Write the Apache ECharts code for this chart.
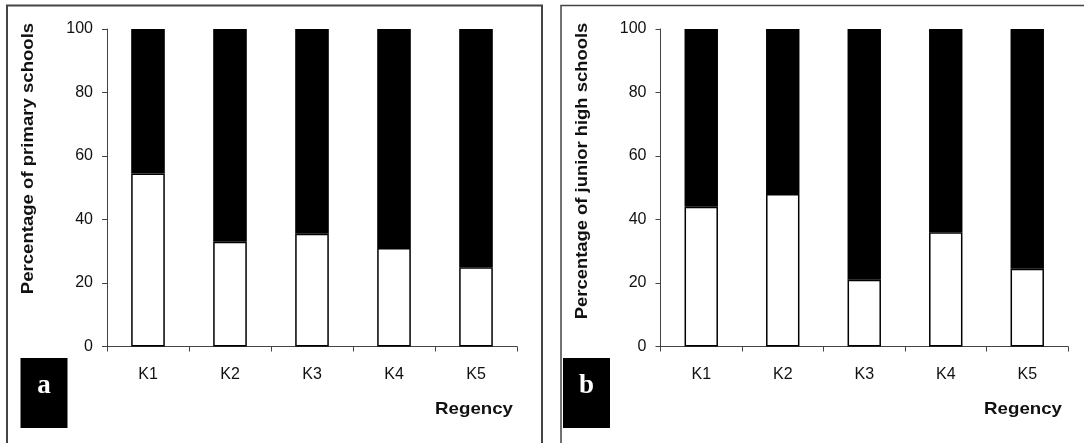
<!DOCTYPE html>
<html>
<head>
<meta charset="utf-8">
<style>
  html, body { margin: 0; padding: 0; background: #fff; }
  #chart { width: 1084px; height: 443px; }
</style>
<script src="https://cdn.jsdelivr.net/npm/echarts@6/dist/echarts.min.js"></script>
</head>
<body>
<div id="chart"></div>
<script>
// Regencies shown on both panels
const regencies = ['K1', 'K2', 'K3', 'K4', 'K5'];
// Panel a: primary schools (white part / black remainder, percent)
const primaryWhite = [54.5, 33, 35.5, 31, 25];
const primaryBlack = primaryWhite.map(v => 100 - v);
// Panel b: junior high schools
const juniorWhite = [44, 48, 21, 36, 24.5];
const juniorBlack = juniorWhite.map(v => 100 - v);
// Value axis ticks
const yTicks = [0, 20, 40, 60, 80, 100];

const FONT = 'Liberation Sans, Arial, sans-serif';
const chart = echarts.init(document.getElementById('chart'), null, { renderer: 'canvas' });

function xAxisFor(gridIndex) {
  return {
    type: 'category', gridIndex, data: regencies,
    axisLine: { lineStyle: { color: '#444', width: 1 } },
    axisTick: { show: true, length: 5, lineStyle: { color: '#444' } },
    axisLabel: { color: '#111', fontSize: 16, fontFamily: FONT, margin: 20 }
  };
}
function yAxisFor(gridIndex) {
  return {
    type: 'value', gridIndex, min: yTicks[0], max: yTicks[yTicks.length - 1], interval: 20,
    axisLine: { show: true, lineStyle: { color: '#444', width: 1 } },
    axisTick: { show: true, length: 5, lineStyle: { color: '#444' } },
    axisLabel: { color: '#111', fontSize: 16, fontFamily: FONT, margin: 14 },
    splitLine: { show: false }
  };
}
function stackPair(whiteData, blackData, idx) {
  const stack = 'pct' + idx;
  return [
    {
      type: 'bar', xAxisIndex: idx, yAxisIndex: idx, stack, data: whiteData,
      barWidth: '41%',
      itemStyle: { color: '#fff', borderColor: '#000', borderWidth: 1.5 }
    },
    {
      type: 'bar', xAxisIndex: idx, yAxisIndex: idx, stack, data: blackData,
      barWidth: '41%',
      itemStyle: { color: '#000', borderColor: '#000', borderWidth: 0 }
    }
  ];
}

function panelLabel(letter, x) {
  return [
    { type: 'rect', shape: { x: x, y: 358, width: 47, height: 70 }, style: { fill: '#000' } },
    {
      type: 'text', x: x + 23.5, y: 386,
      style: { text: letter, fill: '#fff', font: 'bold 27px "Liberation Serif", "Times New Roman", serif',
               align: 'center', verticalAlign: 'middle' }
    }
  ];
}

// wide-set bold captions: stretched along the reading direction
function caption(text, x, y, opts) {
  return Object.assign({
    type: 'text', x, y,
    style: { text, fill: '#111', font: 'bold 16px ' + FONT, align: 'center', verticalAlign: 'middle' }
  }, opts);
}

const option = {
  animation: false,
  backgroundColor: '#fff',
  grid: [
    { left: 107, right: 567, top: 29, bottom: 96.5 },
    { left: 660.5, right: 16, top: 29, bottom: 96.5 }
  ],
  xAxis: [xAxisFor(0), xAxisFor(1)],
  yAxis: [yAxisFor(0), yAxisFor(1)],
  series: [
    ...stackPair(primaryWhite, primaryBlack, 0),
    ...stackPair(juniorWhite, juniorBlack, 1)
  ],
  graphic: [
    // panel frames
    { type: 'rect', shape: { x: 7, y: 5.5, width: 535, height: 460 },
      style: { fill: null, stroke: '#444', lineWidth: 2 }, silent: true },
    { type: 'rect', shape: { x: 561, y: 5.5, width: 540, height: 460 },
      style: { fill: null, stroke: '#444', lineWidth: 1.5 }, silent: true },
    // vertical axis titles
    caption('Percentage of primary schools', 29, 158.5, { rotation: Math.PI / 2, scaleX: 1.16 }),
    caption('Percentage of junior high schools', 582.5, 171, { rotation: Math.PI / 2, scaleX: 1.15 }),
    // horizontal axis titles
    { type: 'text', x: 513, y: 409, scaleX: 1.1,
      style: { text: 'Regency', fill: '#111', font: 'bold 17px ' + FONT,
               align: 'right', verticalAlign: 'middle' } },
    { type: 'text', x: 1062, y: 409, scaleX: 1.1,
      style: { text: 'Regency', fill: '#111', font: 'bold 17px ' + FONT,
               align: 'right', verticalAlign: 'middle' } },
    ...panelLabel('a', 20.5),
    ...panelLabel('b', 563)
  ]
};
chart.setOption(option);
</script>
</body>
</html>
